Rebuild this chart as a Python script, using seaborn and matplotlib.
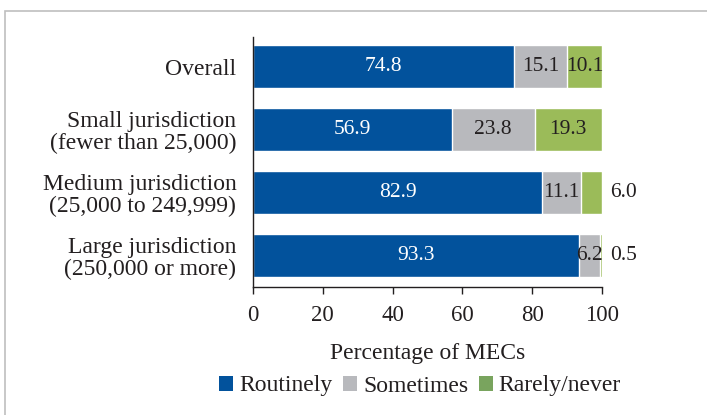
import matplotlib
matplotlib.use("Agg")
import matplotlib.pyplot as plt
from matplotlib.patches import Patch, Rectangle
import numpy as np
import pandas as pd
import seaborn as sns

# Survey results: how often MECs do this, by jurisdiction size (percent)
categories = [
    "Overall",
    "Small jurisdiction\n(fewer than 25,000)",
    "Medium jurisdiction\n(25,000 to 249,999)",
    "Large jurisdiction\n(250,000 or more)",
]
routinely = [74.8, 56.9, 82.9, 93.3]
sometimes = [15.1, 23.8, 11.1, 6.2]
rarely = [10.1, 19.3, 6.0, 0.5]
series_names = ["Routinely", "Sometimes", "Rarely/never"]
x_ticks = [0, 20, 40, 60, 80, 100]

blue = "#02529C"
gray = "#B8B9BD"
green = "#9BBB59"
legend_green = "#79A45E"
text_dark = "#231F20"

sns.set_theme(style="white")
plt.rcParams["font.family"] = ["Liberation Serif", "DejaVu Serif"]

df = pd.DataFrame({
    "category": categories,
    "Routinely": routinely,
    "Sometimes": sometimes,
    "Rarely/never": rarely,
})
df["cum1"] = df["Routinely"]
df["cum2"] = df["cum1"] + df["Sometimes"]
df["cum3"] = df["cum2"] + df["Rarely/never"]

fig = plt.figure(figsize=(7.07, 4.15), dpi=100)
# Outer frame around the whole chart
fig.patches.append(Rectangle((5 / 707, -0.02), 1.1, 1 - 11 / 415 + 0.02,
                             transform=fig.transFigure, fill=False,
                             edgecolor="#BFBFBF", linewidth=1.2))
ax = fig.add_axes([253 / 707, 1 - 287 / 415, (602 - 253) / 707, 250 / 415])

bar_kw = dict(orient="h", width=0.68, edgecolor="white", linewidth=1.0,
              ax=ax, errorbar=None, saturation=1)
sns.barplot(data=df, x="cum3", y="category", color=green, **bar_kw)
sns.barplot(data=df, x="cum2", y="category", color=gray, **bar_kw)
sns.barplot(data=df, x="cum1", y="category", color=blue, **bar_kw)

vfs = 15.5   # value labels
lfs = 17     # category labels, axis label, legend
tfs = 16.5   # tick labels
for i in range(len(categories)):
    r, s, g = routinely[i], sometimes[i], rarely[i]
    ax.text(r / 2, i, f"{r:.1f}", ha="center", va="center", color="white",
            fontsize=vfs)
    ax.text(r + s / 2, i, f"{s:.1f}", ha="center", va="center",
            color=text_dark, fontsize=vfs)
    if g >= 8:
        ax.text(r + s + g / 2, i, f"{g:.1f}", ha="center", va="center",
                color=text_dark, fontsize=vfs)
    else:
        ax.text(r + s + g + 2.2, i, f"{g:.1f}", ha="left", va="center",
                color=text_dark, fontsize=vfs)

ax.set_xlim(0, 100)
ax.set_ylim(3.5, -0.47)
ax.set_xticks(x_ticks)
ax.set_xticklabels([str(t) for t in x_ticks], fontsize=tfs, color=text_dark)
ax.tick_params(axis="x", length=5, width=1, color="#231F20", pad=8,
               bottom=True, direction="out")
ax.tick_params(axis="y", length=0, pad=12, labelsize=lfs, labelcolor=text_dark)
ax.set_yticks(range(len(categories)))
ax.set_yticklabels(categories, ha="right", linespacing=1.05)
ax.set_ylabel("")
ax.set_xlabel("Percentage of MECs", fontsize=lfs, color=text_dark, labelpad=12)
for side in ["top", "right"]:
    ax.spines[side].set_visible(False)
for side in ["left", "bottom"]:
    ax.spines[side].set_color("#231F20")
    ax.spines[side].set_linewidth(1.0)

handles = [Patch(facecolor=blue, edgecolor="none"),
           Patch(facecolor=gray, edgecolor="none"),
           Patch(facecolor=legend_green, edgecolor="none")]
fig.legend(handles, series_names, loc="center", ncol=3, frameon=False,
           bbox_to_anchor=(420 / 707, 1 - 386 / 415), fontsize=lfs,
           handlelength=0.6, handleheight=0.6, handletextpad=0.25,
           columnspacing=0.45, labelcolor=text_dark)

fig.savefig("out.png", dpi=100, facecolor="white")
